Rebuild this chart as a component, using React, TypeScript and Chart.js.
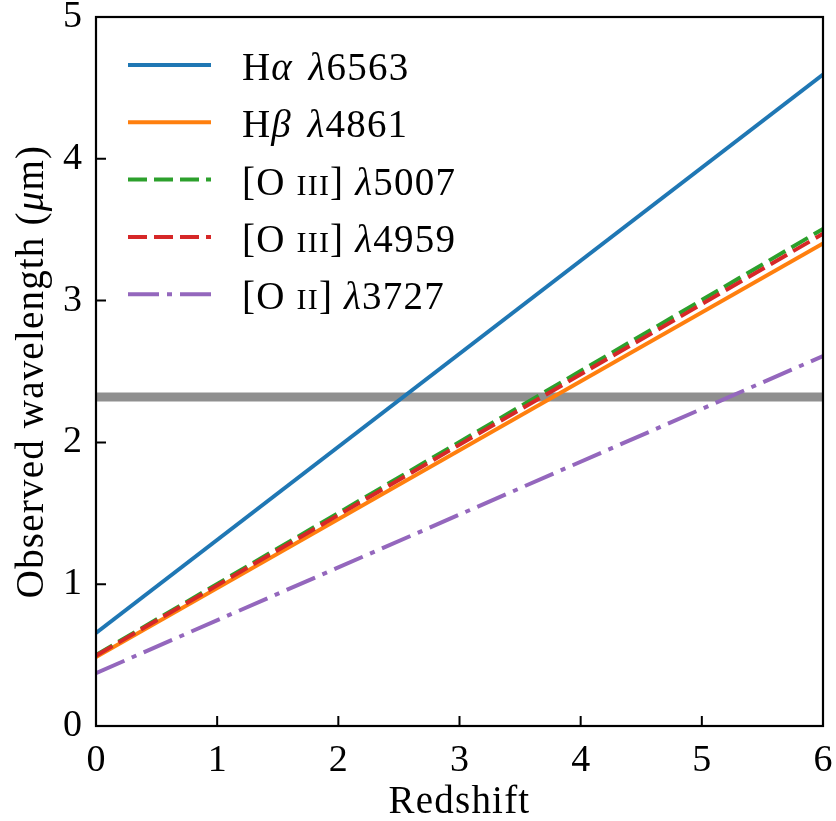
import { useEffect, useRef } from "react";
import { Chart, registerables } from "chart.js";

Chart.register(...registerables);

// ---- data ----
const redshift = [0, 6];
const haValues = [0.656, 4.594];
const hbValues = [0.486, 3.403];
const o3aValues = [0.501, 3.505];
const o3bValues = [0.496, 3.471];
const o2Values = [0.373, 2.609];
const grayLevel = [2.32, 2.32];
const xTickValues = [0, 1, 2, 3, 4, 5, 6];
const yTickValues = [0, 1, 2, 3, 4, 5];

type Seg = [string, "r" | "i" | "sc"];
const seriesLabels: Seg[][] = [
  [["H", "r"], ["α", "i"], [" \u200a", "r"], ["λ", "i"], ["6563", "r"]],
  [["H", "r"], ["β", "i"], [" \u200a", "r"], ["λ", "i"], ["4861", "r"]],
  [["[O ", "r"], ["III", "sc"], ["] ", "r"], ["λ", "i"], ["5007", "r"]],
  [["[O ", "r"], ["III", "sc"], ["] ", "r"], ["λ", "i"], ["4959", "r"]],
  [["[O ", "r"], ["II", "sc"], ["] ", "r"], ["λ", "i"], ["3727", "r"]],
];
const yTitle: Seg[] = [["Observed wavelength (", "r"], ["μ", "i"], ["m)", "r"]];
const xTitle: Seg[] = [["Redshift", "r"]];

const colors = ["#1f77b4", "#ff7f0e", "#2ca02c", "#d62728", "#9467bd"];
const dashes: number[][] = [[], [], [19, 7], [19, 7], [31, 8, 5, 8]];
const FAM = '"Liberation Serif", "DejaVu Serif", serif';
const FS = 39;
const TICK_FS = 38;
const LS = "1.2px";

function fontFor(s: "r" | "i" | "sc") {
  if (s === "i") return `italic ${FS}px ${FAM}`;
  if (s === "sc") return `${Math.round(FS * 0.76)}px ${FAM}`;
  return `${FS}px ${FAM}`;
}

function segWidth(ctx: CanvasRenderingContext2D, segs: Seg[]) {
  let w = 0;
  (ctx as any).letterSpacing = LS;
  for (const [t, s] of segs) {
    ctx.font = fontFor(s);
    w += ctx.measureText(t).width;
  }
  return w;
}

function drawSegs(ctx: CanvasRenderingContext2D, segs: Seg[], x: number, y: number) {
  ctx.textAlign = "left";
  ctx.textBaseline = "alphabetic";
  (ctx as any).letterSpacing = LS;
  let cx = x;
  for (const [t, s] of segs) {
    ctx.font = fontFor(s);
    ctx.fillText(t, cx, y);
    cx += ctx.measureText(t).width;
  }
}

const decorPlugin = {
  id: "decor",
  afterDatasetsDraw(chart: any) {
    const { ctx, chartArea: a, scales } = chart;
    const xs = scales.x;
    const ys = scales.y;
    ctx.save();
    // frame
    ctx.strokeStyle = "#000";
    ctx.lineWidth = 2.2;
    ctx.setLineDash([]);
    ctx.strokeRect(a.left, a.top, a.right - a.left, a.bottom - a.top);
    // inward ticks
    ctx.lineWidth = 2;
    const TL = 10;
    ctx.beginPath();
    for (const v of xTickValues) {
      const px = xs.getPixelForValue(v);
      ctx.moveTo(px, a.bottom);
      ctx.lineTo(px, a.bottom - TL);
    }
    for (const v of yTickValues) {
      const py = ys.getPixelForValue(v);
      ctx.moveTo(a.left, py);
      ctx.lineTo(a.left + TL, py);
    }
    ctx.stroke();

    // legend
    ctx.fillStyle = "#000";
    const rowY0 = a.top + 48;
    const rowStep = 57.3;
    chart.data.datasets.forEach((ds: any) => {
      if (ds.legendIndex === undefined) return;
      const k = ds.legendIndex;
      const y = rowY0 + k * rowStep;
      ctx.strokeStyle = ds.borderColor;
      ctx.lineWidth = ds.borderWidth;
      ctx.setLineDash(ds.borderDash || []);
      ctx.lineCap = "butt";
      ctx.beginPath();
      ctx.moveTo(a.left + 32, y);
      ctx.lineTo(a.left + 115, y);
      ctx.stroke();
      ctx.setLineDash([]);
      drawSegs(ctx, seriesLabels[k], a.left + 146, y + 15);
    });

    // x title
    const xw = segWidth(ctx, xTitle);
    drawSegs(ctx, xTitle, (a.left + a.right) / 2 - xw / 2, 813);

    // y title
    const yw = segWidth(ctx, yTitle);
    ctx.translate(43, (a.top + a.bottom) / 2);
    ctx.rotate(-Math.PI / 2);
    drawSegs(ctx, yTitle, -yw / 2, 0);
    (ctx as any).letterSpacing = "0px";
    ctx.restore();
  },
};

export default function App() {
  const ref = useRef<HTMLCanvasElement | null>(null);
  useEffect(() => {
    document.body.style.margin = "0";
    const canvas = ref.current!;
    const mk = (vals: number[]) => redshift.map((z, i) => ({ x: z, y: vals[i] }));
    const lines = [haValues, hbValues, o3aValues, o3bValues, o2Values];
    const datasets: any[] = [
      {
        data: mk(grayLevel),
        borderColor: "#8f8f8f",
        borderWidth: 9,
        pointRadius: 0,
        order: 10,
      },
      ...lines.map((vals, i) => ({
        data: mk(vals),
        borderColor: colors[i],
        borderWidth: 4,
        borderDash: dashes[i],
        borderCapStyle: "butt",
        pointRadius: 0,
        order: 9 - i,
        legendIndex: i,
      })),
    ];
    const chart = new Chart(canvas, {
      type: "line",
      data: { datasets },
      options: {
        responsive: false,
        animation: false,
        maintainAspectRatio: false,
        layout: { padding: { left: 0, top: 17, right: 13, bottom: 0 } },
        plugins: { legend: { display: false }, tooltip: { enabled: false } },
        elements: { line: { tension: 0 } },
        scales: {
          x: {
            type: "linear",
            min: 0,
            max: 6,
            afterBuildTicks: (s: any) => {
              s.ticks = xTickValues.map((v) => ({ value: v }));
            },
            ticks: {
              font: { family: FAM, size: TICK_FS },
              color: "#000",
              padding: 12,
              maxRotation: 0,
            },
            grid: { display: false, drawTicks: false },
            border: { display: false },
            afterFit: (s: any) => {
              s.height = 95;
              s.paddingLeft = 0;
              s.paddingRight = 0;
            },
          },
          y: {
            type: "linear",
            min: 0,
            max: 5,
            afterBuildTicks: (s: any) => {
              s.ticks = yTickValues.map((v) => ({ value: v }));
            },
            ticks: {
              font: { family: FAM, size: TICK_FS },
              color: "#000",
              padding: 14,
            },
            grid: { display: false, drawTicks: false },
            border: { display: false },
            afterFit: (s: any) => {
              s.width = 96;
              s.paddingTop = 0;
              s.paddingBottom = 0;
            },
          },
        },
      },
      plugins: [decorPlugin],
    } as any);
    return () => chart.destroy();
  }, []);
  return <canvas ref={ref} width={836} height={821} style={{ display: "block" }} />;
}
